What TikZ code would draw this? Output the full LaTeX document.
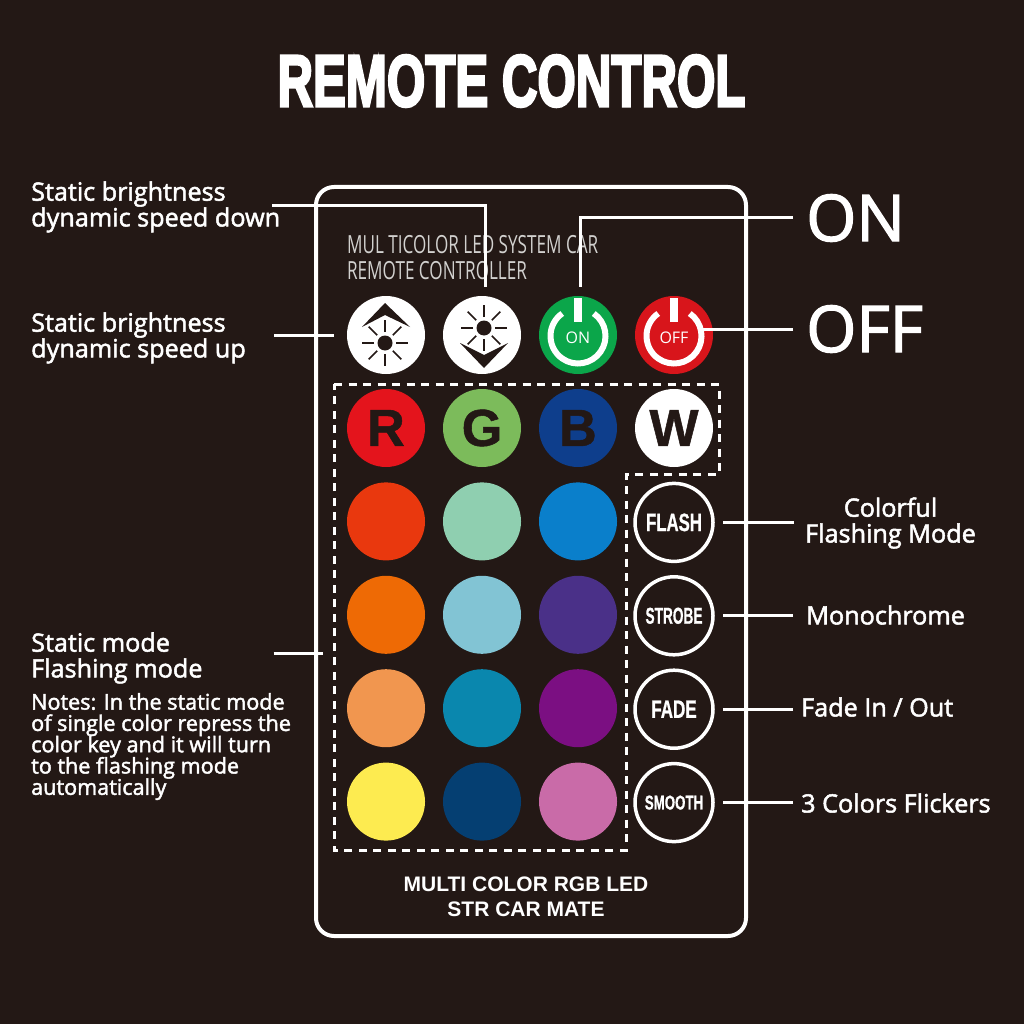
\documentclass[tikz,border=0pt]{standalone}
\usepackage{fontspec}
\usepackage{xcolor}
\usetikzlibrary{positioning}
\setmainfont{Open Sans}
\newfontfamily\titlefont[FakeBold=4]{Liberation Sans Bold}
\newfontfamily\keyfont[FakeBold=1]{Liberation Sans Bold}
\newfontfamily\makerfont{Liberation Sans Bold}
\newfontfamily\labelfont[FakeBold=2]{Open Sans}
\definecolor{panel}{HTML}{231815}
\definecolor{capgrey}{HTML}{D2D1CF}
\definecolor{powergreen}{HTML}{0BA64A}
\definecolor{powerred}{HTML}{D8151B}
\newcommand{\tightlines}{\lineskiplimit=-10pt\relax}

\begin{document}
\begin{tikzpicture}[
    x=1pt, y=-1pt,
    node distance=15.4pt and 18pt,
    key/.style={circle, inner sep=0pt, outer sep=0pt, minimum size=78pt, text=panel, font=\keyfont\fontsize{52}{52}\selectfont},
    modekey/.style={circle, draw=white, line width=3.5pt, inner sep=0pt, minimum size=78pt, yshift=-1pt, text=white, font=\keyfont\fontsize{25}{25}\selectfont},
    lbl/.style={text=white, inner sep=0pt, align=left, font=\labelfont\fontsize{25.2}{25.8}\selectfont},
    biglbl/.style={text=white, inner sep=0pt, font=\labelfont\fontsize{64.5}{64.5}\selectfont},
    wire/.style={draw=white, line width=3pt},
    caption/.style={text=capgrey, inner sep=0pt, anchor=west, xscale=.685, font=\fontsize{25}{25}\selectfont},
    raybrush/.style={draw=panel, line width=1.5pt},
    sun/.pic={
        \fill[panel] (0,0) circle (7.5);
        \foreach \a in {0,45,...,315} \draw[raybrush] (\a:11) -- (\a:23);
    }
]
\useasboundingbox (0,0) rectangle (1024,1024);
\fill[panel] (0,0) rectangle (1024,1024);

\node[text=white, xscale=.675, font=\titlefont\fontsize{73}{73}\selectfont] (title) at (511.5,81) {REMOTE CONTROL};

% remote body
\draw[white, line width=4pt, rounded corners=18pt] (316,187) rectangle (746,936);
\draw[white, line width=3pt, dash pattern=on 8pt off 6.5pt] (334,384) -- (719,384) -- (719,474) -- (626,474) -- (626,850) -- (334,850) -- cycle;

\node[caption] (capa) at (347,245) {MUL TICOLOR LED SYSTEM CAR};
\node[caption] (capb) at (347,271) {REMOTE CONTROLLER};

% top row
\node[key, fill=white] (btnUp) at (386,335) {};
\node[key, fill=white, right=of btnUp] (btnDown) {};
\node[key, fill=powergreen, right=of btnDown] (btnOn) {};
\node[key, fill=powerred, right=of btnOn] (btnOff) {};

\pic at (385,343) {sun};
\pic at (484,328) {sun};
\fill[panel] (385,303) -- (410,327) -- (385,315) -- (362,327) -- cycle;
\fill[panel] (484,368) -- (508,343) -- (484,355) -- (460,343) -- cycle;

\draw[white, line width=6pt] (578,336) ++(-55:27.5) arc (-55:235:27.5);
\fill[white] (574,298) rectangle (582,322);
\node[text=white, font=\fontsize{16}{16}\selectfont] (txtOn) at (578,338) {ON};
\draw[white, line width=6pt] (674,336) ++(-55:27.5) arc (-55:235:27.5);
\fill[white] (670,298) rectangle (678,322);
\node[text=white, font=\fontsize{16}{16}\selectfont] (txtOff) at (674,338) {OFF};

% colour keys
\node[key, fill={rgb,255:red,228;green,20;blue,28}] (keyR) at (386,428) {R};
\node[key, fill={rgb,255:red,124;green,187;blue,91}, right=of keyR] (keyG) {G};
\node[key, fill={rgb,255:red,14;green,62;blue,140}, right=of keyG] (keyB) {B};
\node[key, fill=white, right=of keyB] (keyW) {W};

\node[key, fill={rgb,255:red,233;green,56;blue,14}, below=of keyR] (keyA) {};
\node[key, fill={rgb,255:red,143;green,207;blue,176}, right=of keyA] (keyB2) {};
\node[key, fill={rgb,255:red,10;green,127;blue,203}, right=of keyB2] (keyC) {};
\node[key, fill={rgb,255:red,238;green,106;blue,5}, below=of keyA] (keyD) {};
\node[key, fill={rgb,255:red,130;green,196;blue,212}, right=of keyD] (keyE) {};
\node[key, fill={rgb,255:red,74;green,48;blue,136}, right=of keyE] (keyF) {};
\node[key, fill={rgb,255:red,241;green,150;blue,79}, below=of keyD] (keyH) {};
\node[key, fill={rgb,255:red,10;green,135;blue,174}, right=of keyH] (keyI) {};
\node[key, fill={rgb,255:red,123;green,15;blue,130}, right=of keyI] (keyJ) {};
\node[key, fill={rgb,255:red,253;green,235;blue,80}, below=of keyH] (keyK) {};
\node[key, fill={rgb,255:red,5;green,63;blue,114}, right=of keyK] (keyL) {};
\node[key, fill={rgb,255:red,201;green,107;blue,168}, right=of keyL] (keyM) {};

% mode keys
\node[modekey] (keyFlash) at (keyW |- keyA) {\scalebox{.67}[1]{FLASH}};
\node[modekey] (keyStrobe) at (keyW |- keyD) {\scalebox{.595}[1]{\fontsize{23}{23}\selectfont STROBE}};
\node[modekey] (keyFade) at (keyW |- keyH) {\scalebox{.68}[1]{FADE}};
\node[modekey] (keySmooth) at (keyW |- keyK) {\scalebox{.665}[1]{\fontsize{20}{20}\selectfont SMOOTH}};

\node[text=white, font=\makerfont\fontsize{21}{25}\selectfont, align=center] (maker) at (526,897) {MULTI COLOR RGB LED\\STR CAR MATE};

% labels on the left
\node[lbl, anchor=west] (lblDown) at (31,207) {Static brightness\\dynamic speed down};
\node[lbl, anchor=west] (lblUp) at (31,338) {Static brightness\\dynamic speed up};
\node[lbl, anchor=west] (lblMode) at (31,658) {Static mode\\Flashing mode};
\node[lbl, anchor=north west, font=\labelfont\fontsize{21.6}{21.3}\selectfont\tightlines] (lblNotes) at (31,693) {Notes: In the static mode\\of single color repress the\\color key and it will turn\\to the flashing mode\\automatically};
\coordinate (gridEdge) at (323,653);
\coordinate (tapDown) at (485,287);
\coordinate (tapOn) at (580,287);
\coordinate (ledOff) at (703,329);
\coordinate (wireDown) at (272,205.5);

% labels on the right
\node[biglbl, anchor=west] (lblOn) at (806,218) {ON};
\node[biglbl, anchor=west] (lblOff) at (806,329) {OFF};
\node[lbl, align=center] (lblFlash) at (890.5,523) {Colorful\\Flashing Mode};
\node[lbl, anchor=west] (lblStrobe) at (806,615) {Monochrome};
\node[lbl, anchor=west] (lblFade) at (801,707) {Fade In / Out};
\node[lbl, anchor=west] (lblSmooth) at (801,803) {3 Colors Flickers};

% connectors
\draw[wire] (wireDown) -| (tapDown);
\draw[wire, shorten <=28pt, shorten >=13pt] (lblUp.east |- btnUp.west) -- (btnUp.west);
\draw[wire, shorten <=71pt] (lblMode.east |- gridEdge) -- (gridEdge);
\draw[wire, shorten <=13pt] (lblOn.west) -| (tapOn);
\draw[wire, shorten <=13pt] (lblOff.west) -- (ledOff);
\draw[wire, shorten <=11pt, shorten >=8.5pt] (lblFlash.west |- keyFlash.east) -- (keyFlash.east);
\draw[wire, shorten <=13pt, shorten >=8.5pt] (lblStrobe.west |- keyStrobe.east) -- (keyStrobe.east);
\draw[wire, shorten <=8pt, shorten >=8.5pt] (lblFade.west |- keyFade.east) -- (keyFade.east);
\draw[wire, shorten <=8pt, shorten >=8.5pt] (lblSmooth.west |- keySmooth.east) -- (keySmooth.east);
\end{tikzpicture}
\end{document}
